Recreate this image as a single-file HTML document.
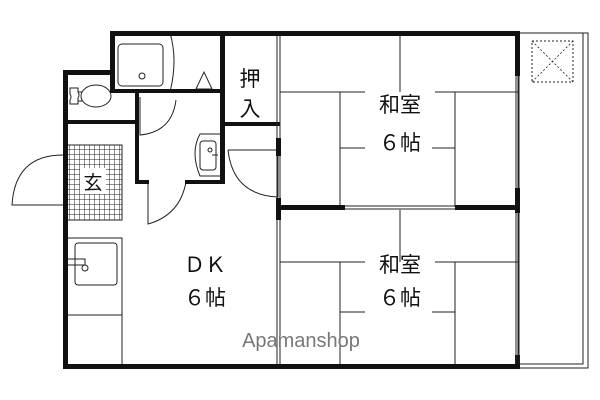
<!DOCTYPE html>
<html><head><meta charset="utf-8"><style>
html,body{margin:0;padding:0;background:#fff;}
svg{display:block;}
text{font-family:"Liberation Sans","Noto Sans CJK JP",sans-serif;fill:#111;}
</style></head><body>
<svg width="600" height="400" viewBox="0 0 600 400" xmlns="http://www.w3.org/2000/svg">
<defs>
<pattern id="grid" width="5" height="5" patternUnits="userSpaceOnUse">
<path d="M5 0V5H0" fill="none" stroke="#222" stroke-width="1"/>
</pattern>
</defs>
<rect x="518" y="33" width="70" height="335" fill="none" stroke="#222" stroke-width="1"/>
<rect x="518" y="33" width="65" height="331" fill="none" stroke="#222" stroke-width="1"/>
<rect x="532" y="41" width="41" height="41" fill="none" stroke="#222" stroke-dasharray="2,2"/>
<path d="M532 41L573 82M573 41L532 82" stroke="#222" stroke-width="0.8" stroke-dasharray="2,2"/>

<rect x="67" y="145" width="55" height="75" fill="url(#grid)" stroke="#222"/>
<rect x="80" y="168" width="26" height="26" fill="#fff"/>
<text x="93" y="189" font-size="19" text-anchor="middle">玄</text>

<g stroke="#222" stroke-width="1" fill="none">
<path d="M400 33V92M280 92H365M435 92H518M340 92V207M455 92V207M340 148H365M432 148H455"/>
<path d="M400 210V262M280 262H365M435 262H518M340 262V368M455 262V368M340 312H365M432 312H455"/>
<path d="M67 238H122V368M67 315H122"/>
<rect x="75" y="243" width="42" height="42" rx="3"/>
<path d="M67 259H85V265H67"/>
<circle cx="85" cy="268" r="3"/>
<rect x="118" y="44" width="45" height="42" rx="4"/>
<circle cx="142" cy="76" r="3"/>
<path d="M170 33 Q178 60 170 92"/>
<path d="M196 89L204 72L212 89Z"/>
<!-- toilet -->
<path d="M70 88H78V92Q80 95 78 98V104H70V100Q72 97 70 94Z"/>
<ellipse cx="96" cy="96" rx="15" ry="11"/>
<path d="M78 92H82M78 101H82"/>
<path d="M200 134 Q190 152 200 176H222V134Z"/>
<rect x="200" y="141" width="16" height="29" rx="3"/>
<circle cx="210" cy="150" r="2"/>
<path d="M212 155H218"/>
<path d="M140 97V135 Q172 132 176 100"/>
<path d="M148 184V224 Q180 215 186 182"/>
<path d="M228 150H278V197 Q233 195 228 150"/>
<path d="M63 155 Q15 155 12 205H63"/>
<path d="M172 92H222"/>
</g>

<g fill="#111">
<rect x="110" y="31" width="410" height="5"/>
<rect x="110" y="31" width="5" height="62"/>
<rect x="110" y="89" width="112" height="4"/>
<rect x="63" y="70" width="50" height="5"/>
<rect x="63" y="70" width="5" height="298"/>
<rect x="63" y="120" width="75" height="4"/>
<rect x="135" y="90" width="4" height="94"/>
<rect x="135" y="180" width="14" height="4"/>
<rect x="185" y="180" width="40" height="4"/>
<rect x="220" y="31" width="5" height="153"/>
<rect x="222" y="122" width="58" height="4"/>
<rect x="276" y="138" width="5" height="18"/>
<rect x="276" y="198" width="5" height="22"/>
<rect x="276" y="205" width="69" height="5"/>
<rect x="455" y="205" width="63" height="5"/>
<rect x="515" y="31" width="5" height="45"/>
<rect x="515" y="188" width="5" height="25"/>
<rect x="63" y="364" width="457" height="5"/>
<rect x="515" y="355" width="5" height="14"/>
</g>
<g fill="none" stroke="#222" stroke-width="1">
<path d="M277 36V138M280 36V138M277 156V198M280 156V198M277 220V364M280 220V364"/>
<path d="M516 76V188M519 76V188M516 213V364M519 213V364"/>
<path d="M345 206H455M345 209H455"/>
</g>

<text x="250" y="86" font-size="21" text-anchor="middle">押</text>
<text x="250" y="116" font-size="21" text-anchor="middle">入</text>
<text x="400" y="112" font-size="21" text-anchor="middle">和室</text>
<text x="400" y="150" font-size="21" text-anchor="middle">６帖</text>
<text x="400" y="272" font-size="21" text-anchor="middle">和室</text>
<text x="400" y="305" font-size="21" text-anchor="middle">６帖</text>
<text x="205" y="272" font-size="21" text-anchor="middle">ＤＫ</text>
<text x="205" y="305" font-size="21" text-anchor="middle">６帖</text>
<text x="301" y="347" font-size="20" text-anchor="middle" style="fill:#777">Apamanshop</text>
</svg>
</body></html>
